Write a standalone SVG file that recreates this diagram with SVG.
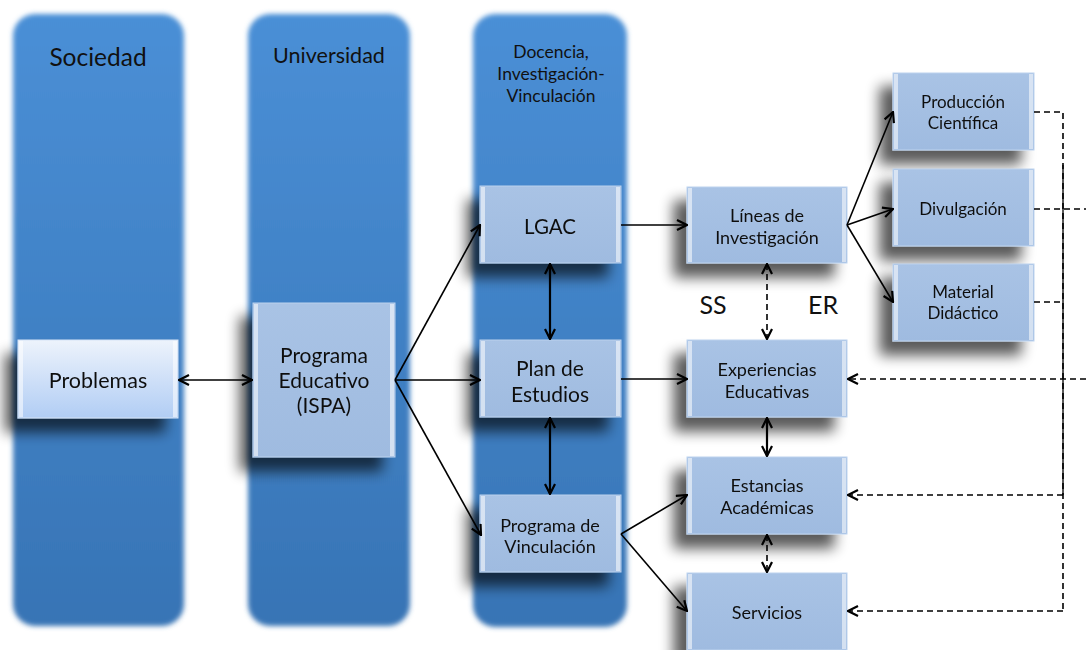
<svg xmlns="http://www.w3.org/2000/svg" width="1086" height="650" viewBox="0 0 1086 650">
<defs>
<style>
.t{font-family:Lato,"Open Sans","Liberation Sans",sans-serif;fill:#111;text-anchor:middle}
.col{fill:url(#colg);filter:url(#blur)}
.bx{fill:url(#boxg);stroke:#bcd2ee;stroke-width:1}
.edge{fill:#ffffff;opacity:0.55}
.c{fill:none;stroke:#000;stroke-width:1.6}
.cd{fill:none;stroke:#000;stroke-width:2.2}
.dash{fill:none;stroke:#000;stroke-width:1.6;stroke-dasharray:6 4}
</style>
<linearGradient id="colg" x1="0" y1="0" x2="0" y2="1">
<stop offset="0" stop-color="#4a8fd6"/>
<stop offset="1" stop-color="#3774b5"/>
</linearGradient>
<linearGradient id="boxg" x1="0" y1="0" x2="0" y2="1">
<stop offset="0" stop-color="#a9c3e5"/>
<stop offset="1" stop-color="#9fbbe0"/>
</linearGradient>
<linearGradient id="probg" x1="0" y1="0" x2="0" y2="1">
<stop offset="0" stop-color="#edf3fc"/>
<stop offset="1" stop-color="#b1cdf4"/>
</linearGradient>
<filter id="blur" x="-10%" y="-5%" width="120%" height="110%">
<feGaussianBlur stdDeviation="2.5"/>
</filter>
<filter id="sh" x="-40%" y="-40%" width="180%" height="190%">
<feGaussianBlur in="SourceAlpha" stdDeviation="7"/>
<feOffset dx="-13" dy="14"/>
<feComponentTransfer><feFuncA type="linear" slope="0.65"/></feComponentTransfer>
<feMerge><feMergeNode/><feMergeNode in="SourceGraphic"/></feMerge>
</filter>
<marker id="ah" viewBox="0 0 12 12" refX="11" refY="6" markerWidth="12" markerHeight="12" markerUnits="userSpaceOnUse" orient="auto-start-reverse">
<path d="M1,1 L11,6 L1,11" fill="none" stroke="#000" stroke-width="2.2"/>
</marker>
</defs>

<g id="columns">
<rect class="col" x="13" y="14" width="171" height="612" rx="22"/>
<rect class="col" x="248" y="14" width="162" height="612" rx="22"/>
<rect class="col" x="473" y="14" width="154" height="613" rx="22"/>
<text class="t" x="98" y="66" font-size="24.5">Sociedad</text>
<text class="t" x="329" y="63" font-size="21.5">Universidad</text>
<text class="t" x="551" y="58" font-size="17.5">Docencia,</text>
<text class="t" x="551" y="80" font-size="17.5">Investigación-</text>
<text class="t" x="551" y="102" font-size="17.5">Vinculación</text>
</g>

<g id="n-problemas" filter="url(#sh)">
<rect x="18" y="340" width="160" height="78" fill="url(#probg)" stroke="#d6e4f6"/>
<rect class="edge" x="19" y="341" width="4" height="76"/>
<rect class="edge" x="173" y="341" width="4" height="76"/>
<text class="t" x="98" y="388" font-size="21.5">Problemas</text>
</g>

<g id="n-programa" filter="url(#sh)">
<rect class="bx" x="253" y="303" width="142" height="154"/>
<rect class="edge" x="254" y="304" width="4" height="152"/>
<rect class="edge" x="390" y="304" width="4" height="152"/>
<text class="t" x="324" y="363" font-size="21">Programa</text>
<text class="t" x="324" y="388" font-size="21">Educativo</text>
<text class="t" x="324" y="413" font-size="21">(ISPA)</text>
</g>

<g id="n-lgac" filter="url(#sh)">
<rect class="bx" x="480" y="186" width="141" height="77"/>
<rect class="edge" x="481" y="187" width="4" height="75"/>
<rect class="edge" x="616" y="187" width="4" height="75"/>
<text class="t" x="550" y="234" font-size="20.5">LGAC</text>
</g>

<g id="n-plan" filter="url(#sh)">
<rect class="bx" x="480" y="340" width="141" height="77"/>
<rect class="edge" x="481" y="341" width="4" height="75"/>
<rect class="edge" x="616" y="341" width="4" height="75"/>
<text class="t" x="550" y="376" font-size="21">Plan de</text>
<text class="t" x="550" y="402" font-size="21">Estudios</text>
</g>

<g id="n-vinculacion" filter="url(#sh)">
<rect class="bx" x="480" y="495" width="141" height="77"/>
<rect class="edge" x="481" y="496" width="4" height="75"/>
<rect class="edge" x="616" y="496" width="4" height="75"/>
<text class="t" x="550" y="532" font-size="18">Programa de</text>
<text class="t" x="550" y="553" font-size="18">Vinculación</text>
</g>

<g id="n-lineas" filter="url(#sh)">
<rect class="bx" x="687" y="187" width="160" height="76"/>
<rect class="edge" x="688" y="188" width="4" height="74"/>
<rect class="edge" x="842" y="188" width="4" height="74"/>
<text class="t" x="767" y="222" font-size="18">Líneas de</text>
<text class="t" x="767" y="244" font-size="18">Investigación</text>
</g>

<g id="n-experiencias" filter="url(#sh)">
<rect class="bx" x="687" y="340" width="160" height="77"/>
<rect class="edge" x="688" y="341" width="4" height="75"/>
<rect class="edge" x="842" y="341" width="4" height="75"/>
<text class="t" x="767" y="376" font-size="18">Experiencias</text>
<text class="t" x="767" y="398" font-size="18">Educativas</text>
</g>

<g id="n-estancias" filter="url(#sh)">
<rect class="bx" x="687" y="457" width="160" height="77"/>
<rect class="edge" x="688" y="458" width="4" height="75"/>
<rect class="edge" x="842" y="458" width="4" height="75"/>
<text class="t" x="767" y="492" font-size="18">Estancias</text>
<text class="t" x="767" y="514" font-size="18">Académicas</text>
</g>

<g id="n-servicios" filter="url(#sh)">
<rect class="bx" x="687" y="573" width="160" height="77"/>
<rect class="edge" x="688" y="574" width="4" height="75"/>
<rect class="edge" x="842" y="574" width="4" height="75"/>
<text class="t" x="767" y="619" font-size="18">Servicios</text>
</g>

<g id="n-produccion" filter="url(#sh)">
<rect class="bx" x="893" y="73" width="141" height="77"/>
<rect class="edge" x="894" y="74" width="4" height="75"/>
<rect class="edge" x="1029" y="74" width="4" height="75"/>
<text class="t" x="963" y="108" font-size="17">Producción</text>
<text class="t" x="963" y="129" font-size="17">Científica</text>
</g>

<g id="n-divulgacion" filter="url(#sh)">
<rect class="bx" x="893" y="169" width="141" height="77"/>
<rect class="edge" x="894" y="170" width="4" height="75"/>
<rect class="edge" x="1029" y="170" width="4" height="75"/>
<text class="t" x="963" y="215" font-size="17">Divulgación</text>
</g>

<g id="n-material" filter="url(#sh)">
<rect class="bx" x="893" y="264" width="141" height="77"/>
<rect class="edge" x="894" y="265" width="4" height="75"/>
<rect class="edge" x="1029" y="265" width="4" height="75"/>
<text class="t" x="963" y="298" font-size="17">Material</text>
<text class="t" x="963" y="319" font-size="17">Didáctico</text>
</g>

<g id="labels">
<text class="t" x="713" y="314" font-size="25">SS</text>
<text class="t" x="823" y="314" font-size="25">ER</text>
</g>

<g id="connectors">
<line class="c" x1="179" y1="380" x2="252" y2="380" marker-start="url(#ah)" marker-end="url(#ah)"/>
<line class="c" x1="395" y1="380" x2="480" y2="225" marker-end="url(#ah)"/>
<line class="c" x1="395" y1="380" x2="480" y2="380" marker-end="url(#ah)"/>
<line class="c" x1="395" y1="380" x2="481" y2="535" marker-end="url(#ah)"/>
<line class="c" x1="621" y1="225" x2="687" y2="225" marker-end="url(#ah)"/>
<line class="cd" x1="550" y1="264" x2="550" y2="339" marker-start="url(#ah)" marker-end="url(#ah)"/>
<line class="c" x1="621" y1="379" x2="687" y2="379" marker-end="url(#ah)"/>
<line class="cd" x1="550" y1="418" x2="550" y2="494" marker-start="url(#ah)" marker-end="url(#ah)"/>
<line class="c" x1="621" y1="534" x2="687" y2="495" marker-end="url(#ah)"/>
<line class="c" x1="621" y1="534" x2="687" y2="611" marker-end="url(#ah)"/>
<line class="dash" x1="767" y1="264" x2="767" y2="339" marker-start="url(#ah)" marker-end="url(#ah)"/>
<line class="cd" x1="767" y1="418" x2="767" y2="456" marker-start="url(#ah)" marker-end="url(#ah)"/>
<line class="dash" x1="767" y1="535" x2="767" y2="572" marker-start="url(#ah)" marker-end="url(#ah)"/>
<line class="c" x1="847" y1="225" x2="893" y2="112" marker-end="url(#ah)"/>
<line class="c" x1="847" y1="225" x2="893" y2="209" marker-end="url(#ah)"/>
<line class="c" x1="847" y1="225" x2="893" y2="302" marker-end="url(#ah)"/>
<path class="dash" d="M1034,112 H1063 V611"/>
<line x1="1063" y1="165" x2="1063" y2="495" stroke="#000" stroke-width="1.3"/>
<line class="dash" x1="1034" y1="209" x2="1086" y2="209"/>
<line class="dash" x1="1034" y1="302" x2="1063" y2="302"/>
<line class="dash" x1="1086" y1="379" x2="848" y2="379" marker-end="url(#ah)"/>
<line class="dash" x1="1063" y1="495" x2="848" y2="495" marker-end="url(#ah)"/>
<line class="dash" x1="1063" y1="611" x2="848" y2="611" marker-end="url(#ah)"/>
</g>
</svg>
